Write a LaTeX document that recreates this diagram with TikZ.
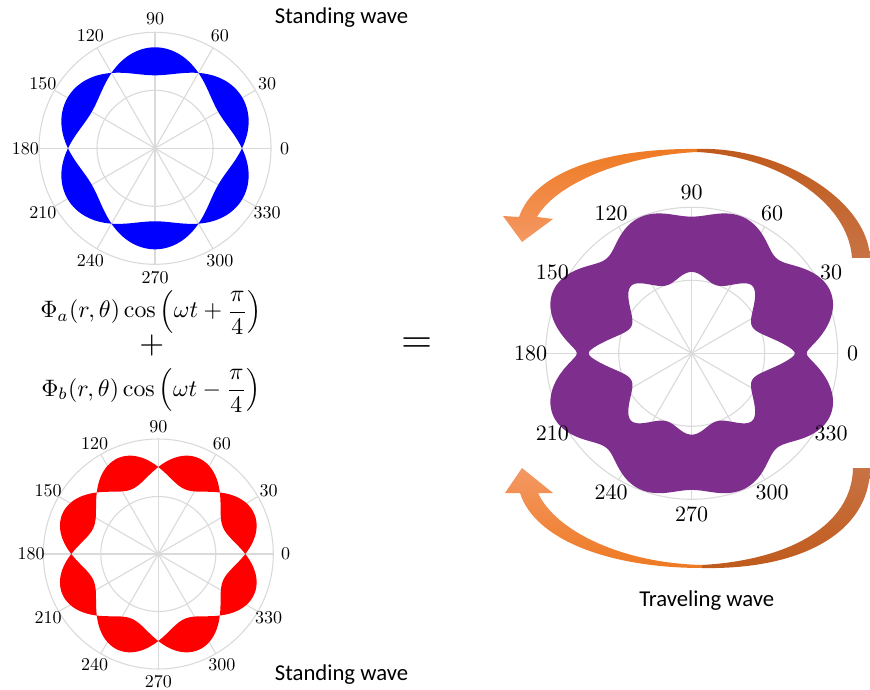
\documentclass[tikz,border=0pt]{standalone}
\usepackage{fontspec}
\newfontfamily\calibri{Carlito}
\definecolor{gridgray}{RGB}{218,218,218}
\definecolor{bandblue}{RGB}{0,0,255}
\definecolor{bandred}{RGB}{255,0,0}
\definecolor{bandpurple}{RGB}{126,46,141}
\definecolor{orA}{RGB}{238,122,35}
\definecolor{orB}{RGB}{244,152,100}
\definecolor{brA}{RGB}{192,90,28}
\definecolor{brB}{RGB}{200,115,68}
\begin{document}
\begin{tikzpicture}[x=1pt,y=1pt,
  gridline/.style={draw=gridgray, line width=1.1pt},
  anglabel/.style={font=\fontsize{10}{10}\selectfont, inner sep=0pt, scale=1.8},
  anglabelbig/.style={font=\fontsize{10}{10}\selectfont, inner sep=0pt, scale=2.2},
  caption/.style={font=\calibri\fontsize{22.7}{22.7}\selectfont, inner sep=0pt},
  formula/.style={font=\fontsize{10}{10}\selectfont, inner sep=0pt, scale=2.38},
  arrowleft/.style={top color=orA, bottom color=orB},
  arrowright/.style={top color=brA, bottom color=brB},
  arrowleftb/.style={top color=orB, bottom color=orA},
  arrowrightb/.style={top color=brB, bottom color=brA}]
\useasboundingbox (0,0) rectangle (870,689);

% ---------- blue standing wave ----------
\begin{scope}[shift={(155,540.7)}]
  \foreach \a in {0,30,...,330} \draw[gridline] (0,0) -- (\a:116);
  \draw[gridline] (0,0) circle[radius=58];
  \draw[gridline] (0,0) circle[radius=116];
  \fill[bandblue, even odd rule]
    plot[domain=0:360, samples=361, variable=\t] (\t:{87+14*abs(sin(3*\t))}) -- cycle
    plot[domain=0:360, samples=361, variable=\t] (\t:{87-14*abs(sin(3*\t))}) -- cycle;
  \foreach \a in {0,30,...,330} \node[anglabel] (bl\a) at (\a:129.5) {\a};
\end{scope}

% ---------- red standing wave ----------
\begin{scope}[shift={(158.3,135)}]
  \foreach \a in {0,30,...,330} \draw[gridline] (0,0) -- (\a:115);
  \draw[gridline] (0,0) circle[radius=57.5];
  \draw[gridline] (0,0) circle[radius=115];
  \fill[bandred, even odd rule]
    plot[domain=0:360, samples=361, variable=\t] (\t:{87+17*abs(sin(4*\t))}) -- cycle
    plot[domain=0:360, samples=361, variable=\t] (\t:{87-17*abs(sin(4*\t))}) -- cycle;
  \foreach \a in {0,30,...,330} \node[anglabel] (rl\a) at (\a:127.3) {\a};
\end{scope}

% ---------- orange arrows ----------
\shade[arrowright] (870,431) .. controls (868,489) and (780,543) .. (697,540)
  -- (697,537) .. controls (775,533) and (848,489) .. (852,431) -- cycle;
\shade[arrowleft] (697,540) .. controls (610,541) and (535,519) .. (519,472)
  -- (503,473) -- (522,447) -- (553,470) -- (537,472)
  .. controls (555,504) and (620,533) .. (697,537) -- cycle;
\shade[arrowrightb] (870,221) .. controls (870,159) and (805,119) .. (702,121)
  -- (702,124) .. controls (790,129) and (852,164) .. (853,221) -- cycle;
\shade[arrowleftb] (702,121) .. controls (610,121) and (535,149) .. (520,196)
  -- (505,196) -- (522,221) -- (553,196) -- (538,196)
  .. controls (555,159) and (620,126) .. (702,124) -- cycle;

% ---------- purple traveling wave ----------
\begin{scope}[shift={(691.7,335.7)}]
  \foreach \a in {0,30,...,330} \draw[gridline] (0,0) -- (\a:146);
  \draw[gridline] (0,0) circle[radius=73];
  \draw[gridline] (0,0) circle[radius=146];
  \fill[bandpurple, even odd rule]
    plot[domain=0:360, samples=721, variable=\t] (\t:{109+sqrt((27*sin(3*\t))^2+(34*sin(4*\t))^2+36)}) -- cycle
    plot[domain=0:360, samples=721, variable=\t] (\t:{109-sqrt((27*sin(3*\t))^2+(34*sin(4*\t))^2+36)}) -- cycle;
  \foreach \a in {0,30,...,330} \node[anglabelbig] (pl\a) at (\a:161) {\a};
\end{scope}

% ---------- texts ----------
\node[caption] (sw1) at (341.5,671.7) {Standing wave};
\node[caption] (sw2) at (341.5,14) {Standing wave};
\node[caption] (tw) at (706.7,88.3) {Traveling wave};
\node[formula, anchor=base] (fa) at (151,371)
  {$\displaystyle \Phi_a(r,\theta)\cos\left(\omega t+\frac{\pi}{4}\right)$};
\node[font=\fontsize{10}{10}\selectfont, inner sep=0pt, scale=3.2] (plus) at (151.7,343) {$+$};
\node[formula, anchor=base] (fb) at (151,293)
  {$\displaystyle \Phi_b(r,\theta)\cos\left(\omega t-\frac{\pi}{4}\right)$};
\node[font=\fontsize{10}{10}\selectfont, inner sep=0pt, scale=4] (eq) at (416.7,344) {$=$};
\end{tikzpicture}
\end{document}
